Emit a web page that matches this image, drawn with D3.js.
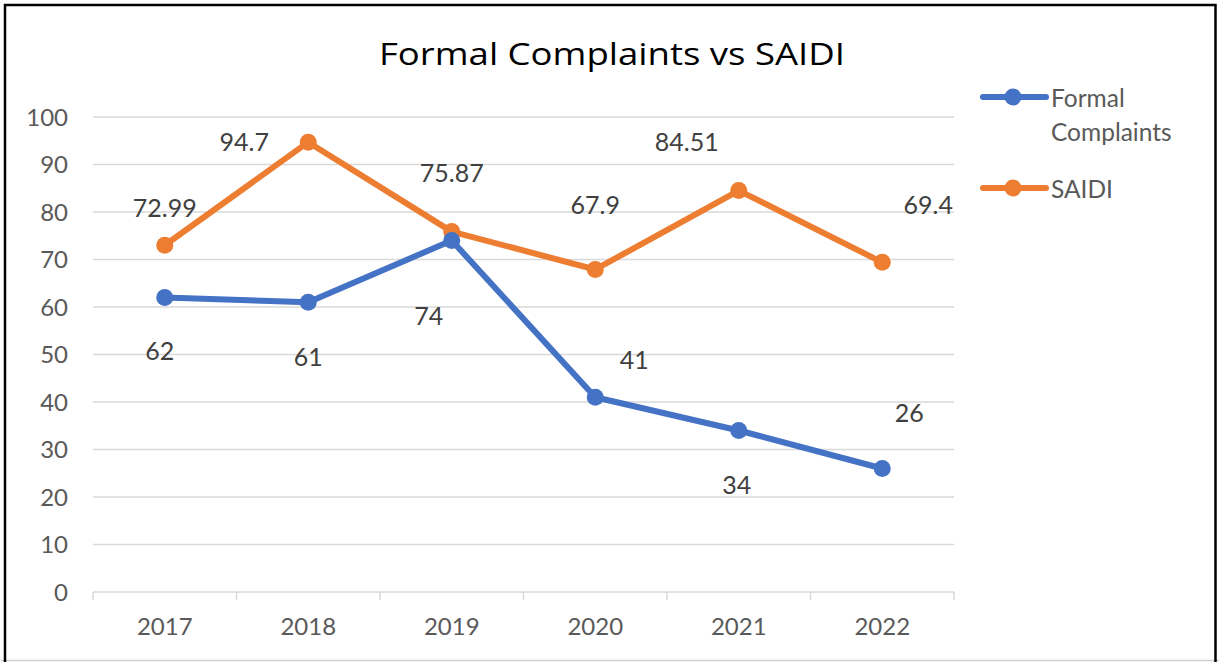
<!DOCTYPE html>
<html>
<head>
<meta charset="utf-8">
<script src="https://cdn.jsdelivr.net/npm/d3@7/dist/d3.min.js"></script>
<style>
  html, body { margin: 0; padding: 0; background: #fff; }
  svg { display: block; font-family: Lato, "Open Sans", sans-serif; }
</style>
</head>
<body>
<svg id="chart" width="1220" height="662"></svg>
<script>
// ---- data ----
const categories = ["2017", "2018", "2019", "2020", "2021", "2022"];
const formalComplaints = [62, 61, 74, 41, 34, 26];
const saidi = [72.99, 94.7, 75.87, 67.9, 84.51, 69.4];
const saidiLabels = ["72.99", "94.7", "75.87", "67.9", "84.51", "69.4"];
const formalLabels = ["62", "61", "74", "41", "34", "26"];
const yTicks = [0, 10, 20, 30, 40, 50, 60, 70, 80, 90, 100];
const seriesNames = ["Formal Complaints", "SAIDI"];
const chartTitle = "Formal Complaints vs SAIDI";

// ---- layout (label offsets from the point, in px) ----
const formalLabelOffsets = [[-5, 54], [0, 55], [-23, 76], [39, -37], [-2, 55], [27, -55]];
const saidiLabelOffsets = [[0, -37], [-64, 0], [0, -58], [0, -64], [-52, -48], [46, -57]];

const colors = { formal: "#4472C4", saidi: "#ED7D31", grid: "#d9d9d9", text: "#595959" };

const svg = d3.select("#chart");
const W = 1220, H = 662;
const plot = { left: 93, right: 954, top: 117, bottom: 592 };

// frame
svg.append("rect").attr("x", 0).attr("y", 0).attr("width", W).attr("height", H).attr("fill", "#fff");
svg.append("line").attr("x1", 1).attr("x2", W - 1).attr("y1", 660.5).attr("y2", 660.5)
  .attr("stroke", "#d0d0d0").attr("stroke-width", 1.5);
svg.append("path").attr("d", `M5,662 V5 H1215.5 V662`).attr("fill", "none")
  .attr("stroke", "#000").attr("stroke-width", 2.5);

const x = d3.scaleBand().domain(categories).range([plot.left, plot.right]).padding(0);
const y = d3.scaleLinear().domain([0, 100]).range([plot.bottom, plot.top]);
const cx = d => x(d) + x.bandwidth() / 2;

// gridlines
svg.append("g").selectAll("line").data(yTicks.filter(t => t > 0)).join("line")
  .attr("x1", plot.left).attr("x2", plot.right)
  .attr("y1", d => y(d)).attr("y2", d => y(d))
  .attr("stroke", colors.grid).attr("stroke-width", 1.5);

// y axis labels
const yAxis = d3.axisLeft(y).tickValues(yTicks).tickSize(0).tickPadding(0);
const yg = svg.append("g").attr("transform", `translate(68,0)`).call(yAxis);
yg.select(".domain").remove();
yg.selectAll("text").attr("fill", colors.text).style("font-size", "24px")
  .style("font-family", "Lato, 'Open Sans', sans-serif").attr("dy", "0.35em");

// x axis
const xAxis = d3.axisBottom(x).tickSize(0).tickPadding(0);
const xg = svg.append("g").attr("transform", `translate(0,${plot.bottom})`).call(xAxis);
xg.select(".domain").attr("stroke", colors.grid).attr("stroke-width", 1.5)
  .attr("d", `M${plot.left},0H${plot.right}`);
xg.selectAll("text").attr("fill", colors.text).style("font-size", "24px")
  .style("font-family", "Lato, 'Open Sans', sans-serif").attr("y", 35).attr("dy", "0.35em");
// boundary tick marks
const bounds = categories.map(c => x(c)).concat([x(categories[categories.length - 1]) + x.bandwidth()]);
svg.append("g").selectAll("line").data(bounds).join("line")
  .attr("x1", d => d).attr("x2", d => d).attr("y1", plot.bottom).attr("y2", plot.bottom + 8)
  .attr("stroke", colors.grid).attr("stroke-width", 1.5);

// series
function drawSeries(values, color) {
  const line = d3.line().x((d, i) => cx(categories[i])).y(d => y(d));
  svg.append("path").datum(values).attr("d", line).attr("fill", "none")
    .attr("stroke", color).attr("stroke-width", 6).attr("stroke-linejoin", "round").attr("stroke-linecap", "round");
  svg.append("g").selectAll("circle").data(values).join("circle")
    .attr("cx", (d, i) => cx(categories[i])).attr("cy", d => y(d)).attr("r", 8.5).attr("fill", color);
}
drawSeries(saidi, colors.saidi);
drawSeries(formalComplaints, colors.formal);

function drawLabels(values, labels, offsets) {
  svg.append("g").selectAll("text").data(values).join("text")
    .attr("x", (d, i) => cx(categories[i]) + offsets[i][0])
    .attr("y", (d, i) => y(d) + offsets[i][1])
    .attr("dy", "0.35em").attr("text-anchor", "middle")
    .attr("fill", "#404040").style("font-size", "25px")
    .text((d, i) => labels[i]);
}
drawLabels(formalComplaints, formalLabels, formalLabelOffsets);
drawLabels(saidi, saidiLabels, saidiLabelOffsets);

// title
svg.append("text").attr("x", 612).attr("y", 65).attr("text-anchor", "middle")
  .attr("fill", "#000").style("font-size", "31px").style("font-family", "'Open Sans', Lato, sans-serif")
  .attr("textLength", 466).attr("lengthAdjust", "spacingAndGlyphs").text(chartTitle);

// legend
const legendItems = [
  { lines: ["Formal", "Complaints"], color: colors.formal, y: 97 },
  { lines: ["SAIDI"], color: colors.saidi, y: 188 }
];
const lg = svg.append("g");
legendItems.forEach(it => {
  lg.append("line").attr("x1", 983).attr("x2", 1046).attr("y1", it.y).attr("y2", it.y)
    .attr("stroke", it.color).attr("stroke-width", 6).attr("stroke-linecap", "round");
  lg.append("circle").attr("cx", 1013).attr("cy", it.y).attr("r", 8.5).attr("fill", it.color);
  it.lines.forEach((t, k) => {
    lg.append("text").attr("x", 1051).attr("y", it.y + 1 + k * 34).attr("dy", "0.35em")
      .attr("fill", colors.text).style("font-size", "24.5px").text(t);
  });
});
</script>
</body>
</html>
